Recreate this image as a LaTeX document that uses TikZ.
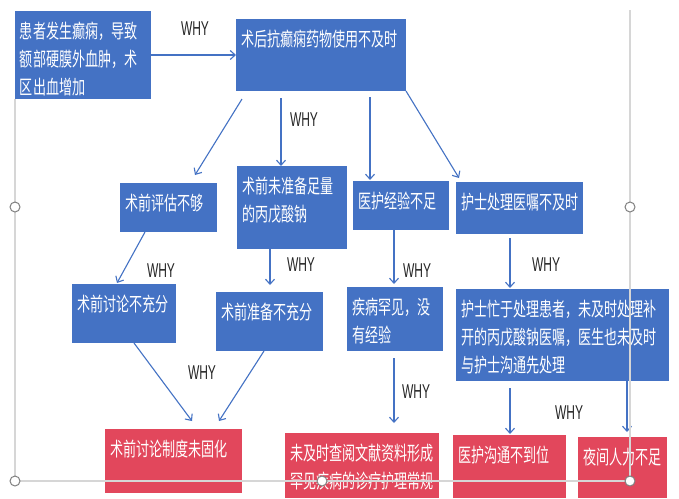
\documentclass[tikz,border=0pt]{standalone}
\usepackage{fontspec}
\newfontfamily\cjk[FakeStretch=0.67]{Noto Sans CJK SC}
\newfontfamily\whyfont[FakeStretch=0.6]{Liberation Sans}
\usetikzlibrary{arrows.meta,calc}
\definecolor{boxblue}{HTML}{4472C4}
\definecolor{boxred}{HTML}{E2475C}
\definecolor{framegray}{HTML}{D6D6D6}
\newcommand\bt[3]{\parbox[c][#2pt][t]{#1pt}{\raggedright\setlength\leftskip{5pt}\vspace*{11pt}#3\par}}
\tikzset{
 bx/.style={inner sep=0pt, outer sep=0pt, anchor=north west, text=white, font=\cjk\fontsize{19.5}{28}\selectfont},
 bluebox/.style={bx, fill=boxblue},
 redbox/.style={bx, fill=boxred},
 arr/.style={draw=boxblue, line width=1.1pt, -{Straight Barb[length=5pt,width=9pt]}},
 why/.style={font=\whyfont\fontsize{20}{20}\selectfont, text=black!85, inner sep=0pt},
 frameline/.style={draw=framegray, line width=1.2pt},
 handle/.style={circle, draw=gray, fill=white, line width=1pt, minimum size=10pt, inner sep=0pt}
}
\begin{document}
\begin{tikzpicture}[x=1pt,y=-1pt]
\useasboundingbox[fill=white] (0,0) rectangle (679,498);
% boxes
\node[bluebox] (A) at (15,11) {\bt{136}{88}{患者发生癫痫，导致\\额部硬膜外血肿，术\\区出血增加}};
\node[bluebox] (B) at (236,19) {\bt{170}{72}{术后抗癫痫药物使用不及时}};
\node[bluebox] (C1) at (120,183) {\bt{97}{49}{术前评估不够}};
\node[bluebox] (C2) at (237,166) {\bt{110}{83}{术前未准备足量\\的丙戊酸钠}};
\node[bluebox] (C3) at (353,181) {\bt{96}{49}{医护经验不足}};
\node[bluebox] (C4) at (456,182) {\bt{127}{52}{护士处理医嘱不及时}};
\node[bluebox] (D1) at (72,284) {\bt{104}{59}{术前讨论不充分}};
\node[bluebox] (D2) at (216,292) {\bt{107}{59}{术前准备不充分}};
\node[bluebox] (D3) at (347,287) {\bt{96}{64}{疾病罕见，没\\有经验}};
\node[bluebox] (D4) at (456,289) {\bt{213}{92}{护士忙于处理患者，未及时处理补\\开的丙戊酸钠医嘱，医生也未及时\\与护士沟通先处理}};
\node[redbox] (R1) at (105,429) {\bt{137}{64}{术前讨论制度未固化}};
\node[redbox] (R2) at (285,433) {\bt{154}{65}{未及时查阅文献资料形成\\罕见疾病的诊疗护理常规}};
\node[redbox] (R3) at (453,435) {\bt{113}{63}{医护沟通不到位}};
\node[redbox] (R4) at (578,437) {\bt{89}{61}{夜间人力不足}};
% arrows
\draw[arr] (A.east) -- (B.west);
\draw[arr] ($(B.south west)+(6,8)$) -- ($(C1.north west)+(75,-8)$);
\draw[arr] ($(B.south west)+(45,7)$) -- ($(C2.north west)+(44,0)$);
\draw[arr] ($(B.south west)+(134,6)$) -- ($(C3.north west)+(17,-1)$);
\draw[arr] (B.south east) -- ($(C4.north west)+(3,-4)$);
\draw[arr] ($(C1.south west)+(25,0)$) -- ($(D1.north west)+(45,-1)$);
\draw[arr] ($(C2.south west)+(33,0)$) -- ($(D2.north west)+(54,-7)$);
\draw[arr] ($(C3.south west)+(41,0)$) -- ($(D3.north west)+(47,-3)$);
\draw[arr] ($(C4.south west)+(54,4)$) -- ($(D4.north west)+(54,-1)$);
\draw[arr] ($(D1.south west)+(62,0)$) -- ($(R1.north west)+(87,-8)$);
\draw[arr] ($(D2.south west)+(48,0)$) -- ($(R1.north west)+(114,-8)$);
\draw[arr] ($(D3.south west)+(47,7)$) -- ($(R2.north west)+(109,-10)$);
\draw[arr] ($(D4.south west)+(54,7)$) -- ($(R3.north west)+(57,-1)$);
\draw[arr] ($(D4.south west)+(171,0)$) -- ($(R4.north west)+(49,-5)$);
% WHY labels
\node[why] (w1) at (195,29) {WHY};
\node[why] (w2) at (304,120) {WHY};
\node[why] (w3) at (161,271) {WHY};
\node[why] (w4) at (301,265) {WHY};
\node[why] (w5) at (417,271) {WHY};
\node[why] (w6) at (546,265) {WHY};
\node[why] (w7) at (202,373) {WHY};
\node[why] (w8) at (416,392) {WHY};
\node[why] (w9) at (569,413) {WHY};
% selection frame
\draw[frameline] (15,99) -- (15,481) -- (630,481) -- (630,10);
\node[handle] (h1) at (15,207) {};
\node[handle] (h2) at (630,207) {};
\node[handle] (h3) at (15,481) {};
\node[handle] (h4) at (322,481) {};
\node[handle] (h5) at (630,481) {};
\end{tikzpicture}
\end{document}
